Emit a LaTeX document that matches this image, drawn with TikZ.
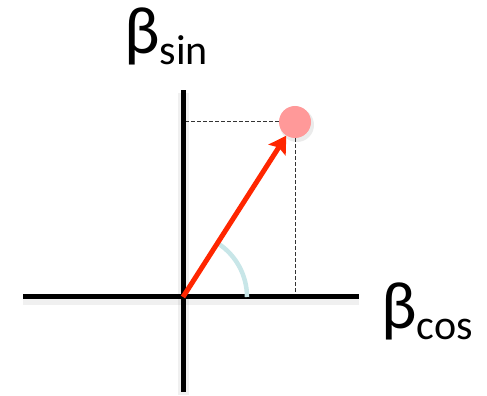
\documentclass[tikz,border=0pt]{standalone}
\usepackage{fontspec}
\setmainfont{Carlito}
\usetikzlibrary{arrows.meta}
\definecolor{axisred}{HTML}{FF2600}
\definecolor{dotpink}{HTML}{FF9999}
\definecolor{arcblue}{HTML}{C8E6E8}
\tikzset{
  axisline/.style={line width=5pt, black},
  axisshadow/.style={line width=11pt, black, opacity=0.06},
  guide/.style={line width=1pt, dash pattern=on 4pt off 2pt, black!80},
  vecarrow/.style={line width=5pt, axisred, -{Triangle[length=17pt,width=20pt,inset=3pt]}},
  dot/.style={circle, fill=dotpink, minimum size=32pt, inner sep=0pt},
  anglearc/.style={line width=4.5pt, arcblue},
  axlabel/.style={inner sep=0pt, anchor=base west}
}
\begin{document}
\begin{tikzpicture}[x=1pt,y=1pt]
\useasboundingbox (0,0) rectangle (487,396);
% shadows
\draw[axisshadow] (23,96) -- (359,96);
\draw[axisshadow] (183,303) -- (183,1);
\fill[black, opacity=0.08] (297,271) circle (17);
% dashed guides
\coordinate (O) at (183,99);
\coordinate (Py) at (185,274);
\coordinate (Px) at (295,99);
\node[dot] (P) at (295,274) {};
\draw[guide] (Py) -- (P.west);
\draw[guide] (P.south) -- (Px);
% axes
\coordinate (xl) at (23,99);
\coordinate (xr) at (359,99);
\coordinate (yt) at (183,306);
\coordinate (yb) at (183,4);
\draw[axisline] (xl) -- (xr);
\draw[axisline] (yb) -- (yt);
% angle arc
\draw[anglearc] ([xshift=64pt]O) arc[start angle=0, end angle=57, radius=64pt];
% vector
\draw[vecarrow] (O) -- (P);
% labels
\node[axlabel] (lsin) at (124,342) {\fontsize{67}{67}\selectfont β\raisebox{-11pt}{\fontsize{42}{42}\selectfont sin}};
\node[axlabel] (lcos) at (381,67) {\fontsize{67}{67}\selectfont β\raisebox{-11pt}{\fontsize{42}{42}\selectfont cos}};
\end{tikzpicture}
\end{document}
